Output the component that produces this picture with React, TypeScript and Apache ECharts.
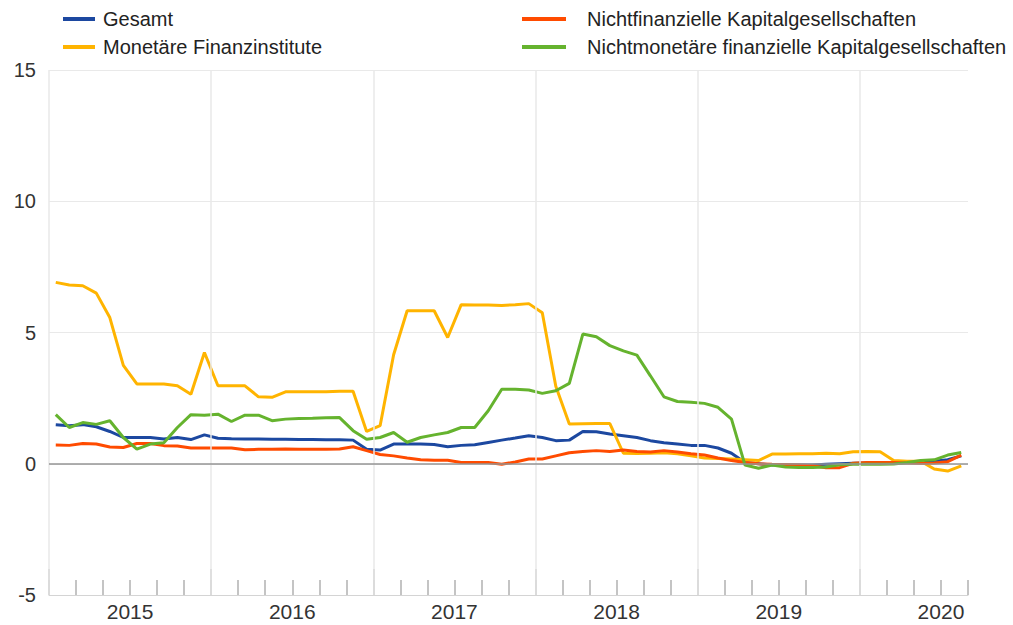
import React, { useEffect, useRef } from "react";
import * as echarts from "echarts";

const years = ["2015", "2016", "2017", "2018", "2019", "2020"];
const monthCount = 68; // Jan 2015 – Aug 2020

const seriesNames = [
  "Gesamt",
  "Monetäre Finanzinstitute",
  "Nichtfinanzielle Kapitalgesellschaften",
  "Nichtmonetäre finanzielle Kapitalgesellschaften",
];
const seriesColors = ["#1c48a0", "#ffb400", "#ff4b00", "#65b32e"];

const gesamt = [
  1.49, 1.45, 1.49, 1.41, 1.23, 1.0, 1.0, 1.0, 0.94, 1.0, 0.92, 1.1,
  0.97, 0.95, 0.94, 0.94, 0.93, 0.93, 0.92, 0.92, 0.91, 0.91, 0.9, 0.55,
  0.52, 0.75, 0.75, 0.75, 0.73, 0.65, 0.7, 0.72, 0.81, 0.9, 0.98, 1.07,
  1.0, 0.88, 0.9, 1.23, 1.22, 1.13, 1.07, 1.0, 0.88, 0.8, 0.75, 0.7,
  0.7, 0.6, 0.4, 0.05, 0.0, -0.05, -0.05, -0.05, -0.05, -0.02, 0.0, 0.02,
  0.03, 0.03, 0.03, 0.05, 0.08, 0.1, 0.15, 0.3,
];

const monetaere = [
  6.91, 6.81, 6.78, 6.5, 5.57, 3.75, 3.04, 3.04, 3.04, 2.97, 2.65, 4.24,
  2.97, 2.97, 2.97, 2.55, 2.53, 2.74, 2.74, 2.74, 2.74, 2.76, 2.76, 1.23,
  1.45, 4.15, 5.83, 5.83, 5.83, 4.81, 6.06, 6.05, 6.05, 6.03, 6.06, 6.1,
  5.75, 2.95, 1.51, 1.52, 1.53, 1.53, 0.4, 0.39, 0.4, 0.42, 0.38, 0.3,
  0.22, 0.2, 0.18, 0.15, 0.12, 0.37, 0.37, 0.38, 0.38, 0.4, 0.38, 0.46,
  0.47, 0.46, 0.12, 0.1, 0.1, -0.2, -0.28, -0.08,
];

const nichtfinanzielle = [
  0.71, 0.7, 0.77, 0.75, 0.64, 0.62, 0.77, 0.77, 0.69, 0.68, 0.6, 0.6,
  0.6, 0.6, 0.53, 0.55, 0.55, 0.56, 0.55, 0.55, 0.55, 0.56, 0.65, 0.5,
  0.35, 0.3, 0.22, 0.15, 0.13, 0.13, 0.05, 0.05, 0.05, -0.02, 0.07, 0.18,
  0.18, 0.3, 0.42, 0.47, 0.5, 0.47, 0.52, 0.47, 0.45, 0.5, 0.45, 0.38,
  0.33, 0.22, 0.12, 0.05, 0.0, -0.02, -0.03, -0.05, -0.08, -0.15, -0.15, 0.02,
  0.05, 0.05, 0.05, 0.03, 0.02, 0.03, 0.08, 0.33,
];

const nichtmonetaere = [
  1.87, 1.38, 1.57, 1.5, 1.64, 1.0, 0.56, 0.75, 0.8, 1.38, 1.87, 1.85,
  1.89, 1.61, 1.85, 1.85, 1.64, 1.7, 1.72, 1.73, 1.75, 1.76, 1.26, 0.93,
  1.0, 1.19, 0.82, 1.0, 1.1, 1.19, 1.38, 1.38, 2.02, 2.84, 2.84, 2.81,
  2.68, 2.78, 3.06, 4.94, 4.84, 4.5, 4.3, 4.14, 3.35, 2.55, 2.37, 2.34,
  2.3, 2.15, 1.7, -0.05, -0.17, -0.05, -0.12, -0.14, -0.14, -0.12, -0.04, -0.02,
  -0.02, -0.02, -0.01, 0.05, 0.12, 0.15, 0.33, 0.43,
];

const yTicks = { min: -5, max: 15, interval: 5 };

const seriesValues = [gesamt, monetaere, nichtfinanzielle, nichtmonetaere];

export default function App() {
  const ref = useRef<HTMLDivElement>(null);

  useEffect(() => {
    document.body.style.margin = "0";
    if (!ref.current) return;
    const chart = echarts.init(ref.current, undefined, { renderer: "svg" });
    const font = "'Liberation Sans', Arial, sans-serif";
    const yearStarts = years.map((_, i) => i * 12);

    const lineSeries = seriesNames.map((name, s) => ({
      name,
      type: "line",
      xAxisIndex: 0,
      yAxisIndex: 0,
      symbol: "none",
      z: 3,
      lineStyle: { width: 3, color: seriesColors[s] },
      itemStyle: { color: seriesColors[s] },
      data: seriesValues[s].map((v, i) => [i + 0.5, v]),
    }));

    const legendCommon = {
      orient: "vertical",
      icon: "rect",
      itemHeight: 4,
      itemGap: 6,
      selectedMode: false,
      textStyle: { fontFamily: font, fontSize: 20, color: "#222", lineHeight: 22 },
    };

    chart.setOption({
      animation: false,
      textStyle: { fontFamily: font },
      legend: [
        {
          ...legendCommon,
          left: 58,
          top: 3,
          itemWidth: 32,
          data: [seriesNames[0], seriesNames[1]],
          textStyle: { ...legendCommon.textStyle, padding: [0, 0, 0, 3] },
        },
        {
          ...legendCommon,
          left: 517,
          top: 3,
          itemWidth: 44,
          data: [seriesNames[2], seriesNames[3]],
          textStyle: { ...legendCommon.textStyle, padding: [0, 0, 0, 16] },
        },
      ],
      grid: { left: 49, right: 45, top: 70, bottom: 30, containLabel: false },
      xAxis: [
        {
          type: "value",
          min: 0,
          max: monthCount,
          interval: 2,
          position: "bottom",
          axisLine: { show: true, onZero: false, lineStyle: { color: "#d4d4d4", width: 1 } },
          axisTick: { show: true, inside: true, length: 15, lineStyle: { color: "#b0b0b0", width: 1.5 } },
          axisLabel: {
            show: true,
            margin: 6,
            fontSize: 21,
            color: "#333",
            fontFamily: font,
            formatter: (v: number) => (v % 12 === 6 ? years[(v - 6) / 12] ?? "" : ""),
          },
          splitLine: { show: false },
        },
        {
          type: "value",
          min: 0,
          max: monthCount,
          interval: 12,
          position: "bottom",
          axisLine: { show: false, onZero: false },
          axisTick: {
            show: true,
            inside: true,
            length: 26,
            customValues: yearStarts,
            lineStyle: { color: "#b0b0b0", width: 1.5 },
          },
          axisLabel: { show: false },
          splitLine: { show: false },
        },
      ],
      yAxis: {
        type: "value",
        min: yTicks.min,
        max: yTicks.max,
        interval: yTicks.interval,
        axisLine: { show: false },
        axisTick: { show: false },
        axisLabel: { fontSize: 20, color: "#333", margin: 13, fontFamily: font },
        splitLine: { show: true, lineStyle: { color: "#e9e9e9", width: 1 } },
      },
      series: [
        {
          name: "_grid",
          type: "line",
          data: [],
          z: 1,
          silent: true,
          markLine: {
            silent: true,
            symbol: "none",
            label: { show: false },
            lineStyle: { color: "#e9e9e9", width: 1.5, type: "solid" },
            data: yearStarts.map((x) => ({ xAxis: x })),
          },
        },
        {
          name: "_zero",
          type: "line",
          data: [],
          z: 2,
          silent: true,
          markLine: {
            silent: true,
            symbol: "none",
            label: { show: false },
            lineStyle: { color: "#959595", width: 1.5, type: "solid" },
            data: [{ yAxis: 0 }],
          },
        },
        ...lineSeries,
      ],
    });

    return () => chart.dispose();
  }, []);

  return <div ref={ref} style={{ width: 1013, height: 625 }} />;
}
